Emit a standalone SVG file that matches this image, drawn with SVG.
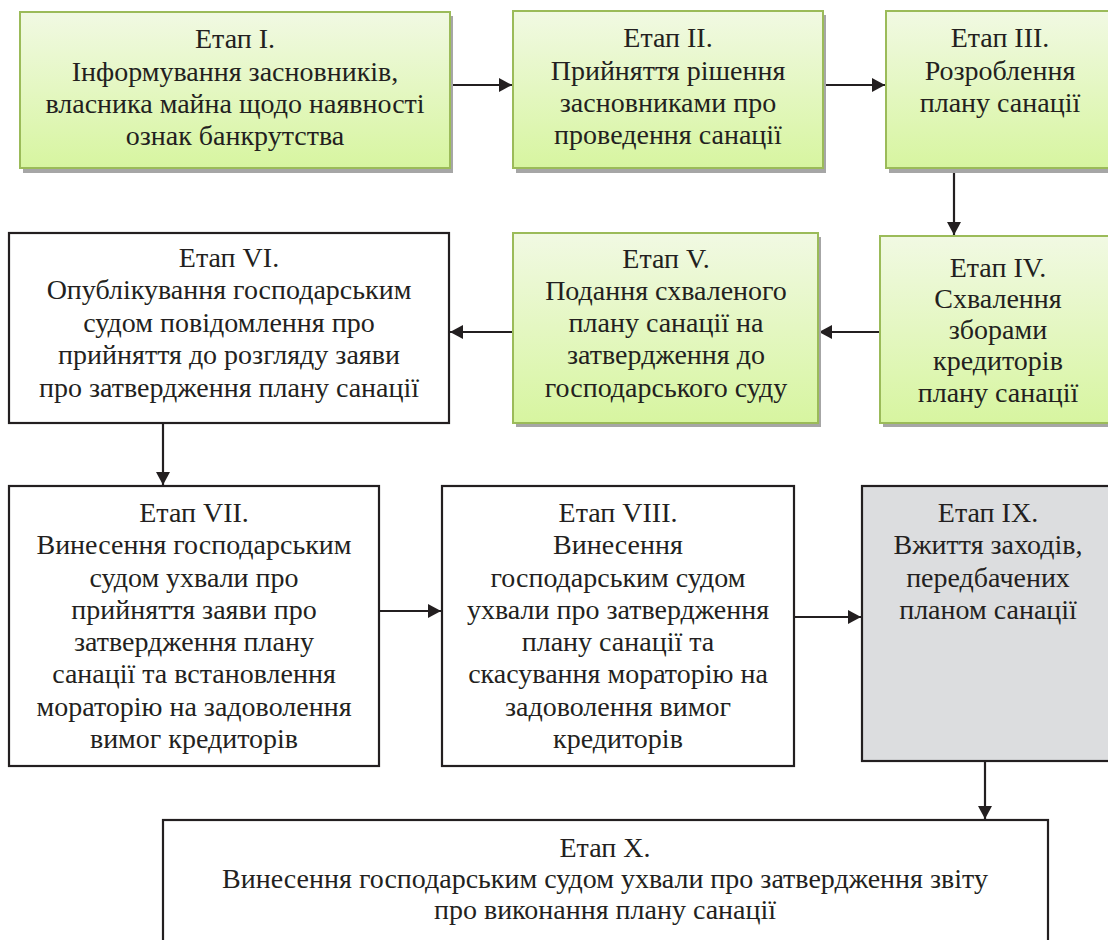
<svg xmlns="http://www.w3.org/2000/svg" width="1108" height="940" viewBox="0 0 1108 940" font-family="Liberation Serif">
<defs>
<linearGradient id="grn" x1="0" y1="0" x2="0" y2="1">
<stop offset="0" stop-color="#f1f9e3"/>
<stop offset="1" stop-color="#d7f5a0"/>
</linearGradient>
<marker id="ah" markerUnits="userSpaceOnUse" markerWidth="14" markerHeight="14" refX="13" refY="7" orient="auto">
<path d="M0,0 L13,7 L0,14 z" fill="#231f20"/>
</marker>
</defs>
<rect width="1108" height="940" fill="#ffffff"/>
<g id="connectors" stroke="#231f20" stroke-width="2.2" fill="none" marker-end="url(#ah)">
<line x1="451" y1="85" x2="512" y2="85"/>
<line x1="824" y1="85" x2="885" y2="85"/>
<line x1="954" y1="169" x2="954" y2="235"/>
<line x1="879" y1="332" x2="819" y2="332"/>
<line x1="512" y1="332" x2="450" y2="332"/>
<line x1="163" y1="424" x2="163" y2="485"/>
<line x1="380" y1="611" x2="441" y2="611"/>
<line x1="795" y1="617" x2="861" y2="617"/>
<line x1="985" y1="762" x2="985" y2="819"/>
</g>
<g id="stage1" font-size="28" fill="#231f20" text-anchor="middle">
<rect fill="#a6a6a6" x="23" y="16" width="430" height="157"/>
<rect fill="url(#grn)" stroke="#9bbb59" stroke-width="2" x="20" y="12" width="430" height="156"/>
<text style="font-family:'Liberation Serif',serif !important" x="235" y="48">Етап І.</text>
<text style="font-family:'Liberation Serif',serif !important" x="235" y="81">Інформування засновників,</text>
<text style="font-family:'Liberation Serif',serif !important" x="235" y="113">власника майна щодо наявності</text>
<text style="font-family:'Liberation Serif',serif !important" x="235" y="145">ознак банкрутства</text>
</g>
<g id="stage2" font-size="28" fill="#231f20" text-anchor="middle">
<rect fill="#a6a6a6" x="516" y="15" width="310" height="158"/>
<rect fill="url(#grn)" stroke="#9bbb59" stroke-width="2" x="513" y="11" width="310" height="157"/>
<text style="font-family:'Liberation Serif',serif !important" x="668" y="47">Етап ІІ.</text>
<text style="font-family:'Liberation Serif',serif !important" x="668" y="80">Прийняття рішення</text>
<text style="font-family:'Liberation Serif',serif !important" x="668" y="112">засновниками про</text>
<text style="font-family:'Liberation Serif',serif !important" x="668" y="144">проведення санації</text>
</g>
<g id="stage3" font-size="28" fill="#231f20" text-anchor="middle">
<rect fill="#a6a6a6" x="889" y="15" width="230" height="158"/>
<rect fill="url(#grn)" stroke="#9bbb59" stroke-width="2" x="886" y="11" width="230" height="157"/>
<text style="font-family:'Liberation Serif',serif !important" x="1000" y="47">Етап ІІІ.</text>
<text style="font-family:'Liberation Serif',serif !important" x="1000" y="80">Розроблення</text>
<text style="font-family:'Liberation Serif',serif !important" x="1000" y="112">плану санації</text>
</g>
<g id="stage4" font-size="28" fill="#231f20" text-anchor="middle">
<rect fill="#a6a6a6" x="883" y="240" width="235" height="187"/>
<rect fill="url(#grn)" stroke="#9bbb59" stroke-width="2" x="880" y="236" width="235" height="187"/>
<text style="font-family:'Liberation Serif',serif !important" x="998" y="277">Етап IV.</text>
<text style="font-family:'Liberation Serif',serif !important" x="998" y="308">Схвалення</text>
<text style="font-family:'Liberation Serif',serif !important" x="998" y="339">зборами</text>
<text style="font-family:'Liberation Serif',serif !important" x="998" y="370">кредиторів</text>
<text style="font-family:'Liberation Serif',serif !important" x="998" y="402">плану санації</text>
</g>
<g id="stage5" font-size="28" fill="#231f20" text-anchor="middle">
<rect fill="#a6a6a6" x="516" y="237" width="305" height="190"/>
<rect fill="url(#grn)" stroke="#9bbb59" stroke-width="2" x="513" y="233" width="305" height="190"/>
<text style="font-family:'Liberation Serif',serif !important" x="666" y="268">Етап V.</text>
<text style="font-family:'Liberation Serif',serif !important" x="666" y="300">Подання схваленого</text>
<text style="font-family:'Liberation Serif',serif !important" x="666" y="332">плану санації на</text>
<text style="font-family:'Liberation Serif',serif !important" x="666" y="364">затвердження до</text>
<text style="font-family:'Liberation Serif',serif !important" x="666" y="397">господарського суду</text>
</g>
<g id="stage6" font-size="28" fill="#231f20" text-anchor="middle">
<rect fill="#ffffff" stroke="#231f20" stroke-width="2.2" x="9" y="233" width="440" height="190"/>
<text style="font-family:'Liberation Serif',serif !important" x="229" y="267">Етап VI.</text>
<text style="font-family:'Liberation Serif',serif !important" x="229" y="299">Опублікування господарським</text>
<text style="font-family:'Liberation Serif',serif !important" x="229" y="332">судом повідомлення про</text>
<text style="font-family:'Liberation Serif',serif !important" x="229" y="364">прийняття до розгляду заяви</text>
<text style="font-family:'Liberation Serif',serif !important" x="229" y="397">про затвердження плану санації</text>
</g>
<g id="stage7" font-size="28" fill="#231f20" text-anchor="middle">
<rect fill="#ffffff" stroke="#231f20" stroke-width="2.2" x="9" y="486" width="370" height="280"/>
<text style="font-family:'Liberation Serif',serif !important" x="194" y="522">Етап VII.</text>
<text style="font-family:'Liberation Serif',serif !important" x="194" y="554">Винесення господарським</text>
<text style="font-family:'Liberation Serif',serif !important" x="194" y="587">судом ухвали про</text>
<text style="font-family:'Liberation Serif',serif !important" x="194" y="619">прийняття заяви про</text>
<text style="font-family:'Liberation Serif',serif !important" x="194" y="651">затвердження плану</text>
<text style="font-family:'Liberation Serif',serif !important" x="194" y="683">санації та встановлення</text>
<text style="font-family:'Liberation Serif',serif !important" x="194" y="716">мораторію на задоволення</text>
<text style="font-family:'Liberation Serif',serif !important" x="194" y="748">вимог кредиторів</text>
</g>
<g id="stage8" font-size="28" fill="#231f20" text-anchor="middle">
<rect fill="#ffffff" stroke="#231f20" stroke-width="2.2" x="442" y="486" width="352" height="280"/>
<text style="font-family:'Liberation Serif',serif !important" x="618" y="522">Етап VIII.</text>
<text style="font-family:'Liberation Serif',serif !important" x="618" y="554">Винесення</text>
<text style="font-family:'Liberation Serif',serif !important" x="618" y="587">господарським судом</text>
<text style="font-family:'Liberation Serif',serif !important" x="618" y="619">ухвали про затвердження</text>
<text style="font-family:'Liberation Serif',serif !important" x="618" y="651">плану санації та</text>
<text style="font-family:'Liberation Serif',serif !important" x="618" y="683">скасування мораторію на</text>
<text style="font-family:'Liberation Serif',serif !important" x="618" y="716">задоволення вимог</text>
<text style="font-family:'Liberation Serif',serif !important" x="618" y="748">кредиторів</text>
</g>
<g id="stage9" font-size="28" fill="#231f20" text-anchor="middle">
<rect fill="#dcdddf" stroke="#231f20" stroke-width="2.2" x="862" y="486" width="253" height="275"/>
<text style="font-family:'Liberation Serif',serif !important" x="988" y="522">Етап IX.</text>
<text style="font-family:'Liberation Serif',serif !important" x="988" y="554">Вжиття заходів,</text>
<text style="font-family:'Liberation Serif',serif !important" x="988" y="587">передбачених</text>
<text style="font-family:'Liberation Serif',serif !important" x="988" y="619">планом санації</text>
</g>
<g id="stage10" font-size="28" fill="#231f20" text-anchor="middle">
<rect fill="#ffffff" stroke="#231f20" stroke-width="2.2" x="163" y="820" width="885" height="140"/>
<text style="font-family:'Liberation Serif',serif !important" x="605" y="857">Етап X.</text>
<text style="font-family:'Liberation Serif',serif !important" x="605" y="888">Винесення господарським судом ухвали про затвердження звіту</text>
<text style="font-family:'Liberation Serif',serif !important" x="605" y="919">про виконання плану санації</text>
</g>
</svg>
